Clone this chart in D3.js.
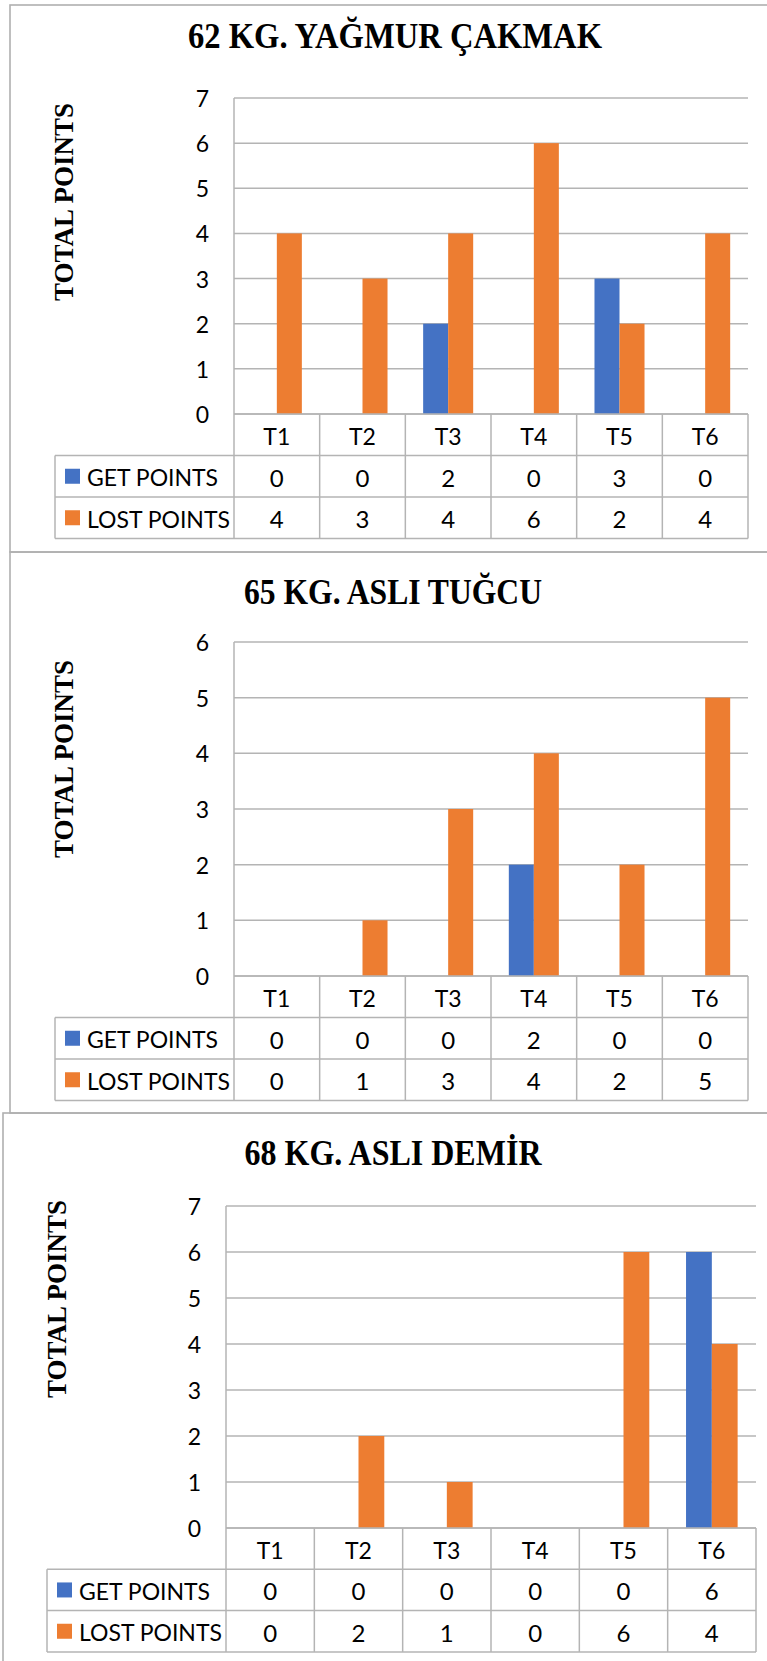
<!DOCTYPE html>
<html>
<head>
<meta charset="utf-8">
<script src="https://cdn.jsdelivr.net/npm/d3@7"></script>
<style>
  html, body { margin: 0; padding: 0; background: #fff; }
  svg { display: block; }
</style>
</head>
<body>
<div id="chart"></div>
<script>
// ---------- DATA ----------
const categories = ["T1", "T2", "T3", "T4", "T5", "T6"];
const seriesNames = ["GET POINTS", "LOST POINTS"];
const seriesColors = ["#4472C4", "#ED7D31"];
const axisTitle = "TOTAL POINTS";

const titles = ["62 KG. YAĞMUR ÇAKMAK", "65 KG. ASLI TUĞCU", "68 KG. ASLI DEMİR"];
const yMaxes = [7, 6, 7];

const getPoints62 = [0, 0, 2, 0, 3, 0];
const lostPoints62 = [4, 3, 4, 6, 2, 4];
const getPoints65 = [0, 0, 0, 2, 0, 0];
const lostPoints65 = [0, 1, 3, 4, 2, 5];
const getPoints68 = [0, 0, 0, 0, 0, 6];
const lostPoints68 = [0, 2, 1, 0, 6, 4];

const panelSeries = [
  [getPoints62, lostPoints62],
  [getPoints65, lostPoints65],
  [getPoints68, lostPoints68]
];

// ---------- LAYOUT ----------
const W = 767, H = 1661;
const layouts = [
  { box: [10, 5, 800, 547], titleX: 395, titleY: 48, titleW: 414, axX: 64, axY: 202,
    left: 234, right: 748, top: 98, bottom: 414, rowH: 41.5, legLeft: 55, tickX: 209 },
  { box: [10, 552, 800, 561], titleX: 393, titleY: 604, titleW: 298, axX: 64, axY: 759,
    left: 234, right: 748, top: 642, bottom: 976, rowH: 41.5, legLeft: 55, tickX: 209 },
  { box: [3, 1113, 800, 600], titleX: 393, titleY: 1165, titleW: 297, axX: 57, axY: 1299,
    left: 226, right: 756, top: 1206, bottom: 1528, rowH: 41.3, legLeft: 47, tickX: 201 }
];

const gridColor = "#b4b4b4";
const borderColor = "#b0b0b0";
const sansFont = "Lato, 'Open Sans', sans-serif";
const serifFont = "'Liberation Serif', 'DejaVu Serif', serif";

const svg = d3.select("#chart").append("svg")
  .attr("width", W).attr("height", H);

layouts.forEach((L, i) => {
  const g = svg.append("g");
  const series = panelSeries[i];

  // panel border
  g.append("rect")
    .attr("x", L.box[0]).attr("y", L.box[1])
    .attr("width", L.box[2]).attr("height", L.box[3])
    .attr("fill", "none").attr("stroke", borderColor).attr("stroke-width", 1.6);

  // title
  g.append("text")
    .attr("x", L.titleX).attr("y", L.titleY)
    .attr("text-anchor", "middle")
    .attr("font-family", serifFont).attr("font-weight", "bold")
    .attr("font-size", 35).attr("fill", "#000")
    .attr("textLength", L.titleW).attr("lengthAdjust", "spacingAndGlyphs")
    .text(titles[i]);

  // y axis title
  g.append("text")
    .attr("transform", `translate(${L.axX},${L.axY}) rotate(-90)`)
    .attr("text-anchor", "middle").attr("dominant-baseline", "central")
    .attr("font-family", serifFont).attr("font-weight", "bold")
    .attr("font-size", 27).attr("fill", "#000")
    .text(axisTitle);

  // scales
  const y = d3.scaleLinear().domain([0, yMaxes[i]]).range([L.bottom, L.top]);
  const x = d3.scaleBand().domain(categories).range([L.left, L.right]).padding(0);
  const bw = x.bandwidth();
  const groupHalf = bw * 0.292;
  const x1 = d3.scaleBand().domain(d3.range(series.length)).range([-groupHalf, groupHalf]).padding(0);

  // gridlines
  const ticks = d3.range(0, yMaxes[i] + 1);
  g.append("g").selectAll("line").data(ticks).join("line")
    .attr("x1", L.left).attr("x2", L.right)
    .attr("y1", d => y(d)).attr("y2", d => y(d))
    .attr("stroke", gridColor).attr("stroke-width", 1.5);

  // left axis line
  g.append("line")
    .attr("x1", L.left).attr("x2", L.left)
    .attr("y1", L.top).attr("y2", L.bottom)
    .attr("stroke", gridColor).attr("stroke-width", 1.5);

  // tick labels
  g.append("g").selectAll("text").data(ticks).join("text")
    .attr("x", L.tickX).attr("y", d => y(d))
    .attr("text-anchor", "end").attr("dominant-baseline", "central")
    .attr("font-family", sansFont).attr("font-size", 23).attr("fill", "#000")
    .text(d => d);

  // bars
  series.forEach((vals, s) => {
    g.append("g").selectAll("rect").data(vals.map((v, k) => ({ v, c: categories[k] }))).join("rect")
      .attr("x", d => x(d.c) + bw / 2 + x1(s))
      .attr("y", d => y(d.v))
      .attr("width", x1.bandwidth())
      .attr("height", d => y(0) - y(d.v))
      .attr("fill", seriesColors[s]);
  });

  // data table
  const r0 = L.bottom, r1 = r0 + L.rowH, r2 = r1 + L.rowH, r3 = r2 + L.rowH;
  const tg = g.append("g").attr("stroke", gridColor).attr("stroke-width", 1.5);
  tg.append("line").attr("x1", L.left).attr("x2", L.right).attr("y1", r0).attr("y2", r0);
  [r1, r2, r3].forEach(yy => {
    tg.append("line").attr("x1", L.legLeft).attr("x2", L.right).attr("y1", yy).attr("y2", yy);
  });
  const colEdges = categories.map(c => x(c)).concat([L.right]);
  tg.selectAll("line.v").data(colEdges).join("line").attr("class", "v")
    .attr("x1", d => d).attr("x2", d => d).attr("y1", r0).attr("y2", r3);
  tg.append("line").attr("x1", L.legLeft).attr("x2", L.legLeft).attr("y1", r1).attr("y2", r3);

  // header text
  g.append("g").selectAll("text").data(categories).join("text")
    .attr("x", d => x(d) + bw / 2).attr("y", (r0 + r1) / 2 + 1)
    .attr("text-anchor", "middle").attr("dominant-baseline", "central")
    .attr("font-family", sansFont).attr("font-size", 23).attr("fill", "#000")
    .text(d => d);

  // rows
  series.forEach((vals, s) => {
    const ry = s === 0 ? (r1 + r2) / 2 : (r2 + r3) / 2;
    g.append("rect")
      .attr("x", L.legLeft + 10).attr("y", ry - 7.5)
      .attr("width", 15).attr("height", 15)
      .attr("fill", seriesColors[s]);
    g.append("text")
      .attr("x", L.legLeft + 32).attr("y", ry + 1)
      .attr("dominant-baseline", "central")
      .attr("font-family", sansFont).attr("font-size", 23).attr("fill", "#000")
      .text(seriesNames[s]);
    g.append("g").selectAll("text").data(vals.map((v, k) => ({ v, c: categories[k] }))).join("text")
      .attr("x", d => x(d.c) + bw / 2).attr("y", ry + 1)
      .attr("text-anchor", "middle").attr("dominant-baseline", "central")
      .attr("font-family", sansFont).attr("font-size", 24).attr("fill", "#000")
      .text(d => d.v);
  });
});
</script>
</body>
</html>
